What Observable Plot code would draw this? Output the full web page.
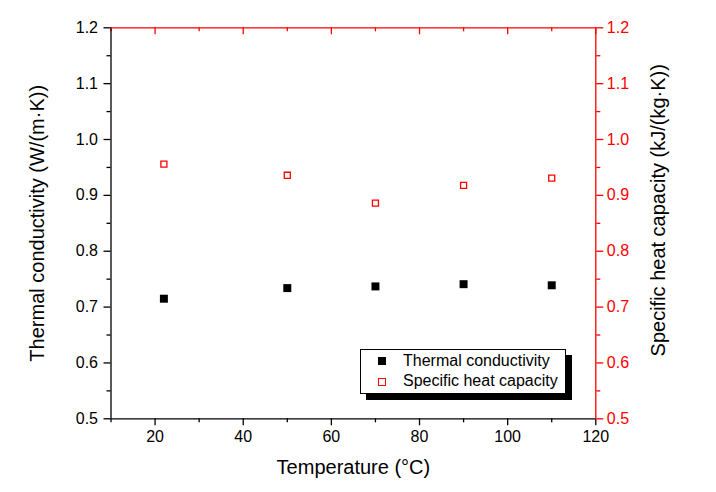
<!DOCTYPE html>
<html>
<head>
<meta charset="utf-8">
<script src="https://cdn.jsdelivr.net/npm/d3@7"></script>
<script src="https://cdn.jsdelivr.net/npm/@observablehq/plot@0.6"></script>
<style>
  html, body { margin: 0; padding: 0; background: #fff; }
  #wrap { position: relative; width: 716px; height: 492px; font-family: "Liberation Sans", Arial, sans-serif; }
  #legend { position: absolute; left: 360px; top: 349px; width: 204px; height: 43px; border: 1px solid #000; background: #fff; box-shadow: 6px 6px 0 #000; font-size: 16px; }
  .sw { position: absolute; left: 17px; box-sizing: border-box; }
  .lbl { position: absolute; left: 42px; white-space: nowrap; line-height: 20px; }
</style>
</head>
<body>
<div id="wrap"></div>
<script>
const temperature = [22, 50, 70, 90, 110];
const thermalConductivity = [0.715, 0.734, 0.737, 0.741, 0.739];
const specificHeatCapacity = [0.956, 0.936, 0.886, 0.918, 0.931];
const xMajorTicks = [20, 40, 60, 80, 100, 120];
const xMinorTicks = [10, 30, 50, 70, 90, 110];
const yMajorTicks = [0.5, 0.6, 0.7, 0.8, 0.9, 1.0, 1.1, 1.2];
const yMinorTicks = [0.55, 0.65, 0.75, 0.85, 0.95, 1.05, 1.15];
const seriesNames = ["Thermal conductivity", "Specific heat capacity"];
const xTitle = "Temperature (°C)";
const yLeftTitle = "Thermal conductivity (W/(m·K))";
const yRightTitle = "Specific heat capacity (kJ/(kg·K))";

const data = temperature.map((t, i) => ({t, k: thermalConductivity[i], c: specificHeatCapacity[i]}));
const noLabel = () => "";
const fmt = d3.format(".1f");

const chart = Plot.plot({
  width: 716,
  height: 492,
  marginLeft: 110.5,
  marginRight: 120.7,
  marginTop: 27.3,
  marginBottom: 73.7,
  x: {domain: [10, 120]},
  y: {domain: [0.5, 1.2]},
  style: {fontFamily: "'Liberation Sans', Arial, sans-serif", fontSize: "16px", color: "#000", background: "#fff"},
  marks: [
    Plot.axisX(xMajorTicks, {anchor: "bottom", tickSize: 7, tickPadding: 5, tickFormat: "d", label: null, strokeWidth: 1.3}),
    Plot.axisX(xMinorTicks, {anchor: "bottom", tickSize: 4, tickFormat: noLabel, label: null, strokeWidth: 1.3}),
    Plot.axisX(xMajorTicks, {anchor: "bottom", frameAnchor: "top", tickSize: 7, tickFormat: noLabel, label: null, stroke: "red", strokeWidth: 1.3}),
    Plot.axisX(xMinorTicks, {anchor: "bottom", frameAnchor: "top", tickSize: 4, tickFormat: noLabel, label: null, stroke: "red", strokeWidth: 1.3}),
    Plot.axisY(yMajorTicks, {anchor: "left", tickSize: 7, tickPadding: 6, tickFormat: fmt, label: null, strokeWidth: 1.3}),
    Plot.axisY(yMinorTicks, {anchor: "left", tickSize: 4, tickFormat: noLabel, label: null, strokeWidth: 1.3}),
    Plot.axisY(yMajorTicks, {anchor: "right", tickSize: 7, tickPadding: 4, tickFormat: fmt, label: null, color: "red", strokeWidth: 1.3}),
    Plot.axisY(yMinorTicks, {anchor: "right", tickSize: 4, tickFormat: noLabel, label: null, color: "red", strokeWidth: 1.3}),
    Plot.ruleX([10], {stroke: "#000", strokeWidth: 1.3}),
    Plot.ruleY([0.5], {stroke: "#000", strokeWidth: 1.3}),
    Plot.ruleX([120], {stroke: "red", strokeWidth: 1.3}),
    Plot.ruleY([1.2], {stroke: "red", strokeWidth: 1.3}),
    Plot.dot(data, {x: "t", y: "k", symbol: "square", fill: "#000", stroke: "none", r: 4.5}),
    Plot.dot(data, {x: "t", y: "c", symbol: "square", fill: "none", stroke: "red", strokeWidth: 1.3, r: 3.4}),
    Plot.text([yLeftTitle], {text: d => d, frameAnchor: "left", textAnchor: "middle", lineAnchor: "middle", dx: -73, rotate: -90, fontSize: 20, fill: "#000"}),
    Plot.text([yRightTitle], {text: d => d, frameAnchor: "right", textAnchor: "middle", lineAnchor: "middle", dx: 62.7, dy: -13, rotate: -90, fontSize: 20, fill: "#000"}),
    Plot.text([xTitle], {text: d => d, frameAnchor: "bottom", textAnchor: "middle", lineAnchor: "middle", dy: 48.7, fontSize: 20, fill: "#000"})
  ]
});

const wrap = document.getElementById("wrap");
wrap.appendChild(chart);

const legend = document.createElement("div");
legend.id = "legend";
legend.innerHTML = `
  <div class="sw" style="top:7px;width:8px;height:8px;background:#000;"></div>
  <div class="lbl" style="top:1px;">${seriesNames[0]}</div>
  <div class="sw" style="top:28px;width:7.5px;height:7.5px;border:1.3px solid red;"></div>
  <div class="lbl" style="top:21px;">${seriesNames[1]}</div>`;
wrap.appendChild(legend);
</script>
</body>
</html>
